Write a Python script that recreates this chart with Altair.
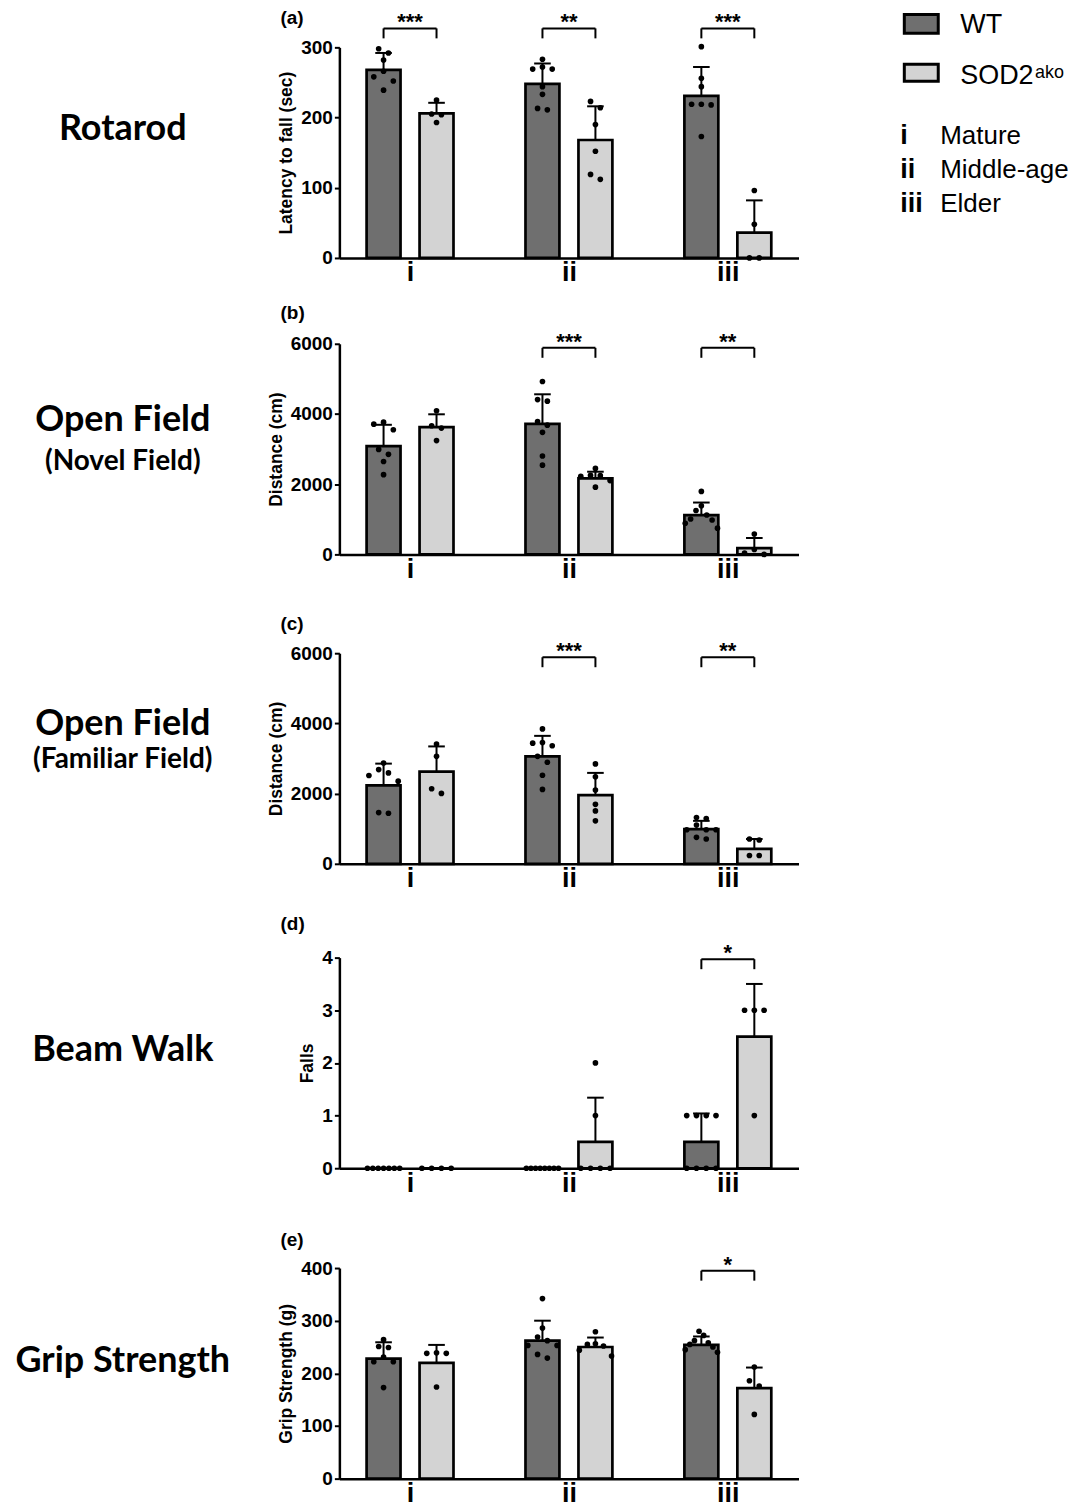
import json
import altair as alt
import pandas as pd

# ---------------- data ----------------
GROUPS = ["i", "ii", "iii"]
GENOTYPES = ["WT", "SOD2ako"]
GENO_COLORS = ["#6f6f6f", "#d3d3d3"]
AGE_NAMES = ["Mature", "Middle-age", "Elder"]

PANEL_TAGS = ["(a)", "(b)", "(c)", "(d)", "(e)"]
ROW_TITLES = [["Rotarod"], ["Open Field", "(Novel Field)"], ["Open Field", "(Familiar Field)"],
              ["Beam Walk"], ["Grip Strength"]]
Y_TITLES = ["Latency to fall (sec)", "Distance (cm)", "Distance (cm)", "Falls", "Grip Strength (g)"]
Y_MAX = [300, 6000, 6000, 4, 400]
Y_TICKS = [[0, 100, 200, 300], [0, 2000, 4000, 6000], [0, 2000, 4000, 6000],
           [0, 1, 2, 3, 4], [0, 100, 200, 300, 400]]

# bar order: i-WT, i-SOD2ako, ii-WT, ii-SOD2ako, iii-WT, iii-SOD2ako
rotarod_mean = [268, 206, 248, 168, 231, 36]
rotarod_sd = [24, 15, 29, 48, 41, 46]
rotarod_points = [[298, 292, 282, 266, 258, 252, 239], [225, 205, 204, 193],
                  [283, 272, 269, 269, 244, 233, 213, 211], [223, 214, 190, 152, 119, 112],
                  [301, 256, 244, 219, 218, 219, 173], [96, 48, 0, 0]]
rotarod_sig = [("i", "***"), ("ii", "**"), ("iii", "***")]
rotarod_bracket = 327

novel_mean = [3084, 3626, 3720, 2168, 1121, 180]
novel_sd = [608, 365, 841, 187, 356, 287]
novel_points = [[3766, 3710, 3551, 2991, 2850, 2645, 2271], [4093, 3664, 3598, 3243],
                [4925, 4411, 4365, 3785, 3682, 3477, 2804, 2542], [2449, 2250, 2243, 2224, 2103, 1916],
                [1794, 1383, 1250, 1121, 1009, 981, 888, 748], [579, 140, 40, 0]]
novel_sig = [("ii", "***"), ("iii", "**")]
novel_bracket = 5885

familiar_mean = [2232, 2628, 3061, 1959, 989, 424]
familiar_sd = [622, 716, 584, 631, 235, 282]
familiar_points = [[2873, 2684, 2590, 2515, 2355, 1460, 1441], [3410, 3061, 2138, 2006],
                   [3843, 3457, 3438, 3363, 3061, 2892, 2524, 2119], [2845, 2477, 2100, 1695, 1507, 1224],
                   [1319, 1290, 1102, 970, 970, 970, 754, 706], [706, 678, 235, 235]]
familiar_sig = [("ii", "***"), ("iii", "**")]
familiar_bracket = 5885

beam_mean = [0, 0, 0, 0.5, 0.5, 2.5]
beam_sd = [0, 0, 0, 0.84, 0.54, 1.0]
beam_points = [[0, 0, 0, 0, 0, 0, 0], [0, 0, 0, 0], [0, 0, 0, 0, 0, 0, 0, 0],
               [2, 1, 0, 0, 0, 0], [1, 1, 1, 1, 0, 0, 0, 0], [3, 3, 3, 1]]
beam_sig = [("iii", "*")]
beam_bracket = 3.97

grip_mean = [228, 220, 262, 250, 254, 172]
grip_sd = [31, 34, 38, 18, 16, 39]
grip_points = [[264, 251, 249, 231, 222, 222, 173], [239, 238, 238, 174],
               [342, 286, 269, 262, 253, 253, 236, 229], [279, 256, 255, 252, 244, 233],
               [280, 272, 262, 258, 255, 250, 245, 240], [212, 186, 176, 122]]
grip_sig = [("iii", "*")]
grip_bracket = 395

PANELS = [
    (rotarod_mean, rotarod_sd, rotarod_points, rotarod_sig, rotarod_bracket),
    (novel_mean, novel_sd, novel_points, novel_sig, novel_bracket),
    (familiar_mean, familiar_sd, familiar_points, familiar_sig, familiar_bracket),
    (beam_mean, beam_sd, beam_points, beam_sig, beam_bracket),
    (grip_mean, grip_sd, grip_points, grip_sig, grip_bracket),
]

# ---------------- layout / style constants ----------------
W, H = 460, 211
X_DOM = [-0.74, 7.74]
PPX = W / (X_DOM[1] - X_DOM[0])
FONT = "Liberation Sans"
TAG_Y = [-38, -40, -38, -43, -37]
ROW_Y = [[82], [76, 118], [71, 107], [93], [93]]
SPACER = [0, 57, 70, 65, 71]


def swarm(values, ppy):
    """Spread dots of nearly equal value sideways (in x units), centre-out."""
    order = sorted(range(len(values)), key=lambda i: -values[i])
    clusters = []
    for i in order:
        if clusters and (values[clusters[-1][-1]] - values[i]) * ppy < 6.5:
            clusters[-1].append(i)
        else:
            clusters.append([i])
    offs = [0.0] * len(values)
    for c in clusters:
        n = len(c)
        if n == 1:
            continue
        sp = min(10.0, 33.0 / (n - 1))
        slots = sorted([j - (n - 1) / 2 for j in range(n)], key=lambda s: (abs(s), s))
        for s, i in zip(slots, c):
            offs[i] = s * sp / PPX
    return offs


def one_row(text):
    return pd.DataFrame({"t": [text]})


def make_panel(idx):
    means, sds, points, sig, bracket_y = PANELS[idx]
    ymax = Y_MAX[idx]
    ppy = H / ymax

    bars, pts = [], []
    for g in range(3):
        for k in range(2):
            j = g * 2 + k
            pos = g * 3 + k
            bars.append(dict(pos=pos, genotype=GENOTYPES[k], mean=means[j], sd=sds[j],
                             top=means[j] + sds[j], cl=pos - 8.5 / PPX, cr=pos + 8.5 / PPX))
            for v, o in zip(points[j], swarm(points[j], ppy)):
                pts.append(dict(px=pos + o, value=v))
    bdf = pd.DataFrame(bars)
    edf = bdf[bdf["sd"] > 0]
    pdf = pd.DataFrame(pts)
    sdf = pd.DataFrame([dict(x1=GROUPS.index(gname) * 3, x2=GROUPS.index(gname) * 3 + 1,
                             xm=GROUPS.index(gname) * 3 + 0.5, by=bracket_y,
                             bl=bracket_y - 10 / ppy, stars=s) for gname, s in sig])

    xs = alt.Scale(domain=X_DOM, nice=False, zero=False)
    ys = alt.Scale(domain=[0, ymax], nice=False, zero=True)
    label_expr = f"{json.dumps(GROUPS)}[round((datum.value - 0.5) / 3)]"
    xaxis = alt.Axis(values=[0.5, 3.5, 6.5], labelExpr=label_expr, title=None, ticks=False,
                     grid=False, domainColor="black", domainWidth=2.5, labelFont=FONT,
                     labelFontSize=27, labelFontWeight="bold", labelColor="black",
                     labelPadding=2, labelFlush=False, labelOverlap=False)
    yaxis = alt.Axis(values=Y_TICKS[idx], title=Y_TITLES[idx], format="d", grid=False,
                     tickSize=5, tickWidth=2, tickColor="black", domainColor="black",
                     domainWidth=2.5, labelFont=FONT, labelFontSize=19, labelFontWeight="bold",
                     labelColor="black", labelPadding=2, labelFlush=False,
                     titleFont=FONT, titleFontSize=17.5, titleFontWeight="bold",
                     titleColor="black", titlePadding=5)

    def X(f):
        return alt.X(f, type="quantitative", scale=xs, axis=xaxis)

    def Y(f):
        return alt.Y(f, type="quantitative", scale=ys, axis=yaxis)

    layers = []
    layers.append(alt.Chart(bdf).mark_bar(orient="vertical", size=34, stroke="black", strokeWidth=2.7)
                  .encode(x=X("pos"), y=alt.Y("mean", type="quantitative", scale=ys, axis=yaxis, stack=None),
                          fill=alt.Fill("genotype:N", scale=alt.Scale(domain=GENOTYPES, range=GENO_COLORS),
                                        legend=None)))
    layers.append(alt.Chart(edf).mark_rule(color="black", strokeWidth=2)
                  .encode(x=X("pos"), y=Y("mean"), y2="top:Q"))
    layers.append(alt.Chart(edf).mark_rule(color="black", strokeWidth=2)
                  .encode(x=X("cl"), x2="cr:Q", y=Y("top")))
    layers.append(alt.Chart(pdf).mark_circle(size=32, color="black", opacity=1)
                  .encode(x=X("px"), y=Y("value")))
    # significance brackets
    layers.append(alt.Chart(sdf).mark_rule(color="black", strokeWidth=2)
                  .encode(x=X("x1"), x2="x2:Q", y=Y("by")))
    layers.append(alt.Chart(sdf).mark_rule(color="black", strokeWidth=2)
                  .encode(x=X("x1"), y=Y("by"), y2="bl:Q"))
    layers.append(alt.Chart(sdf).mark_rule(color="black", strokeWidth=2)
                  .encode(x=X("x2"), y=Y("by"), y2="bl:Q"))
    layers.append(alt.Chart(sdf).mark_text(font=FONT, fontSize=22, fontWeight="bold", color="black",
                                           baseline="middle", dy=-6)
                  .encode(x=X("xm"), y=Y("by"), text="stars:N"))
    # panel tag
    layers.append(alt.Chart(one_row(PANEL_TAGS[idx])).mark_text(
        font=FONT, fontSize=19, fontWeight="bold", color="black", align="left", baseline="top")
        .encode(x=alt.value(-59), y=alt.value(TAG_Y[idx]), text="t:N"))
    # row title on the left
    for li, line in enumerate(ROW_TITLES[idx]):
        layers.append(alt.Chart(one_row(line)).mark_text(
            font="Lato", fontSize=36 if li == 0 else 28, fontWeight="bold", color="black",
            align="center", baseline="middle")
            .encode(x=alt.value(-217), y=alt.value(ROW_Y[idx][li]), text="t:N"))
    # invisible spacer that sets the gap to the panel above
    if SPACER[idx]:
        layers.append(alt.Chart(one_row("")).mark_point(opacity=0, size=4)
                      .encode(x=alt.value(0), y=alt.value(-SPACER[idx])))

    if idx == 0:
        # legend: genotype swatches
        sw_y = [(-33, -14), (17, 34)]
        lab_y = [-14, 37]
        for k, geno in enumerate(GENOTYPES):
            layers.append(alt.Chart(one_row(geno)).mark_rect(fill=GENO_COLORS[k], stroke="black",
                                                             strokeWidth=3)
                          .encode(x=alt.value(566), x2=alt.value(600),
                                  y=alt.value(sw_y[k][0]), y2=alt.value(sw_y[k][1])))
        layers.append(alt.Chart(one_row("WT")).mark_text(
            font=FONT, fontSize=27, color="black", align="left", baseline="alphabetic")
            .encode(x=alt.value(622), y=alt.value(lab_y[0]), text="t:N"))
        layers.append(alt.Chart(one_row("SOD2")).mark_text(
            font=FONT, fontSize=27, color="black", align="left", baseline="alphabetic")
            .encode(x=alt.value(622), y=alt.value(lab_y[1]), text="t:N"))
        layers.append(alt.Chart(one_row("ako")).mark_text(
            font=FONT, fontSize=18, color="black", align="left", baseline="alphabetic")
            .encode(x=alt.value(697), y=alt.value(lab_y[1] - 6), text="t:N"))
        # legend: age groups
        for g, (key, name) in enumerate(zip(GROUPS, AGE_NAMES)):
            yy = 97 + g * 34
            layers.append(alt.Chart(one_row(key)).mark_text(
                font=FONT, fontSize=27, fontWeight="bold", color="black", align="left",
                baseline="alphabetic").encode(x=alt.value(562), y=alt.value(yy), text="t:N"))
            layers.append(alt.Chart(one_row(name)).mark_text(
                font=FONT, fontSize=26, color="black", align="left",
                baseline="alphabetic").encode(x=alt.value(602), y=alt.value(yy), text="t:N"))

    return alt.layer(*layers).properties(width=W, height=H)


chart = (
    alt.vconcat(*[make_panel(i) for i in range(5)], spacing=0)
    .configure_view(stroke=None)
    .properties(padding={"left": 7, "top": 0, "right": 0, "bottom": 0}, background="white")
)

chart.save("out.html", embed_options={"renderer": "svg", "actions": False})
